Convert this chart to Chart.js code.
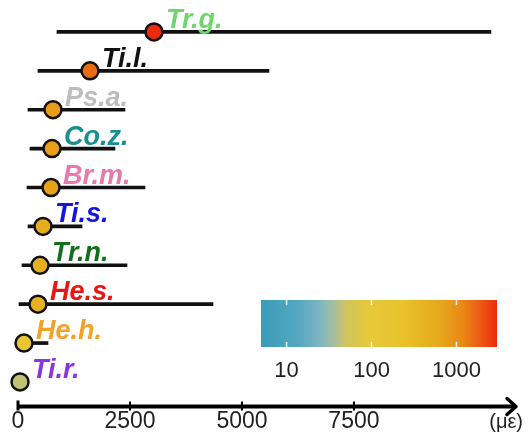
<!DOCTYPE html>
<html>
<head>
<meta charset="utf-8">
<script src="https://cdn.jsdelivr.net/npm/chart.js@4"></script>
<style>
html,body{margin:0;padding:0;background:#fff;}
#wrap{width:528px;height:434px;position:relative;}
</style>
</head>
<body>
<div id="wrap"><canvas id="c" width="528" height="434"></canvas></div>
<script>
// ---- data ----
const species   = ["Tr.g.", "Ti.l.", "Ps.a.", "Co.z.", "Br.m.", "Ti.s.", "Tr.n.", "He.s.", "He.h.", "Ti.r."];
const rangeMin  = [870, 446, 223, 268, 201, 223, 89, 22, 40, 10];
const rangeMax  = [10558, 5603, 2388, 2165, 2835, 1429, 2433, 4353, 670, 60];
const meanVal   = [3036, 1607, 781, 759, 737, 558, 491, 446, 134, 45];
const xTicks    = [0, 2500, 5000, 7500];
const cbTicks   = [10, 100, 1000];
const cbMin = 5, cbMax = 3000;
const labelColors = ["#6fd66f", "#111111", "#bdbdbd", "#178f8f", "#e779ae", "#1515e0", "#12701a", "#e81515", "#f2a22a", "#8a35dd"];

// ---- colour map (log scale) ----
const cmapStops = [
  [0.00, [58,156,184]],
  [0.15, [82,167,192]],
  [0.25, [125,182,194]],
  [0.31, [168,190,160]],
  [0.36, [207,196,96]],
  [0.45, [230,201,58]],
  [0.60, [232,194,44]],
  [0.75, [229,170,28]],
  [0.85, [233,138,20]],
  [0.93, [236,90,20]],
  [1.00, [238,42,12]]
];
function cmap(t){
  t = Math.max(0, Math.min(1, t));
  for (let i = 1; i < cmapStops.length; i++){
    const [t1, c1] = cmapStops[i], [t0, c0] = cmapStops[i-1];
    if (t <= t1){
      const f = (t - t0) / (t1 - t0);
      const c = c0.map((v, k) => Math.round(v + (c1[k] - v) * f));
      return `rgb(${c[0]},${c[1]},${c[2]})`;
    }
  }
  const c = cmapStops[cmapStops.length-1][1];
  return `rgb(${c[0]},${c[1]},${c[2]})`;
}
function logT(v){ return (Math.log10(v) - Math.log10(cbMin)) / (Math.log10(cbMax) - Math.log10(cbMin)); }
const markerColors = meanVal.map(v => cmap(logT(v)));

const FONT = '"Liberation Sans", Arial, sans-serif';

const overlay = {
  id: 'overlay',
  afterDatasetsDraw(chart){
    const ctx = chart.ctx, xs = chart.scales.x, ys = chart.scales.y;
    ctx.save();
    ctx.font = `italic bold 27px ${FONT}`;
    ctx.textAlign = 'left';
    ctx.textBaseline = 'alphabetic';
    species.forEach((s, i) => {
      ctx.fillStyle = labelColors[i];
      ctx.fillText(s, xs.getPixelForValue(meanVal[i]) + 12, ys.getPixelForValue(i) - 4);
    });
    ctx.restore();
  },
  afterDraw(chart){
    const ctx = chart.ctx, xs = chart.scales.x;
    ctx.save();
    const ay = 406.5;
    const x0 = xs.getPixelForValue(0);
    const xEnd = xs.right;
    ctx.strokeStyle = '#000';
    ctx.lineWidth = 4;
    ctx.lineCap = 'butt';
    ctx.beginPath(); ctx.moveTo(x0 - 1, ay); ctx.lineTo(xEnd - 2, ay); ctx.stroke();
    ctx.lineCap = 'round'; ctx.lineJoin = 'round';
    ctx.lineWidth = 3.5;
    ctx.beginPath(); ctx.moveTo(xEnd - 10, ay - 8); ctx.lineTo(xEnd - 1, ay); ctx.lineTo(xEnd - 10, ay + 8); ctx.stroke();
    ctx.lineCap = 'butt';
    ctx.lineWidth = 3;
    ctx.beginPath(); ctx.moveTo(x0, ay - 6); ctx.lineTo(x0, ay + 4); ctx.stroke();
    ctx.lineWidth = 2;
    xTicks.slice(1).forEach(v => {
      const px = xs.getPixelForValue(v);
      ctx.beginPath(); ctx.moveTo(px, ay - 5); ctx.lineTo(px, ay + 4); ctx.stroke();
    });
    ctx.fillStyle = '#222';
    ctx.font = `20px ${FONT}`;
    ctx.textAlign = 'right'; ctx.textBaseline = 'middle';
    ctx.fillText('(με)', 523, 422);

    const cx0 = 261, cx1 = 497, cy0 = 300, cy1 = 347;
    const g = ctx.createLinearGradient(cx0, 0, cx1, 0);
    cmapStops.forEach(([t, c]) => g.addColorStop(t, `rgb(${c[0]},${c[1]},${c[2]})`));
    ctx.fillStyle = g;
    ctx.fillRect(cx0, cy0, cx1 - cx0, cy1 - cy0);
    ctx.strokeStyle = 'rgba(255,255,255,0.9)';
    ctx.lineWidth = 1.5;
    ctx.font = `22px ${FONT}`;
    ctx.fillStyle = '#222';
    ctx.textAlign = 'center'; ctx.textBaseline = 'middle';
    cbTicks.forEach(v => {
      const px = cx0 + logT(v) * (cx1 - cx0);
      ctx.beginPath(); ctx.moveTo(px, cy0); ctx.lineTo(px, cy0 + 5); ctx.stroke();
      ctx.beginPath(); ctx.moveTo(px, cy1 - 5); ctx.lineTo(px, cy1); ctx.stroke();
      ctx.fillText(String(v), px, 371);
    });
    ctx.restore();
  }
};

new Chart(document.getElementById('c'), {
  type: 'bar',
  data: {
    labels: species,
    datasets: [
      {
        type: 'line',
        label: 'mean',
        data: meanVal,
        showLine: false,
        clip: false,
        pointRadius: 8.5,
        pointBorderWidth: 2.5,
        pointBackgroundColor: markerColors,
        pointBorderColor: '#111',
        order: 0
      },
      {
        label: 'range',
        data: rangeMin.map((m, i) => [m, rangeMax[i]]),
        backgroundColor: '#111',
        borderWidth: 0,
        barThickness: 3,
        clip: false,
        order: 1
      }
    ]
  },
  options: {
    indexAxis: 'y',
    responsive: false,
    animation: false,
    layout: { padding: { left: 18, right: 11, top: 12.5, bottom: 0 } },
    plugins: { legend: { display: false }, tooltip: { enabled: false } },
    scales: {
      x: {
        type: 'linear',
        min: 0,
        max: 11140,
        grid: { display: false, drawTicks: false },
        border: { display: false },
        afterBuildTicks: s => { s.ticks = xTicks.map(v => ({ value: v })); },
        afterFit: s => { s.height = 32.6; },
        ticks: {
          font: { family: FONT, size: 23 },
          color: '#222',
          padding: 6,
          maxRotation: 0,
          autoSkip: false,
          callback: v => String(v)
        }
      },
      y: {
        type: 'category',
        display: false,
        offset: true
      }
    }
  },
  plugins: [overlay]
});
</script>
</body>
</html>
